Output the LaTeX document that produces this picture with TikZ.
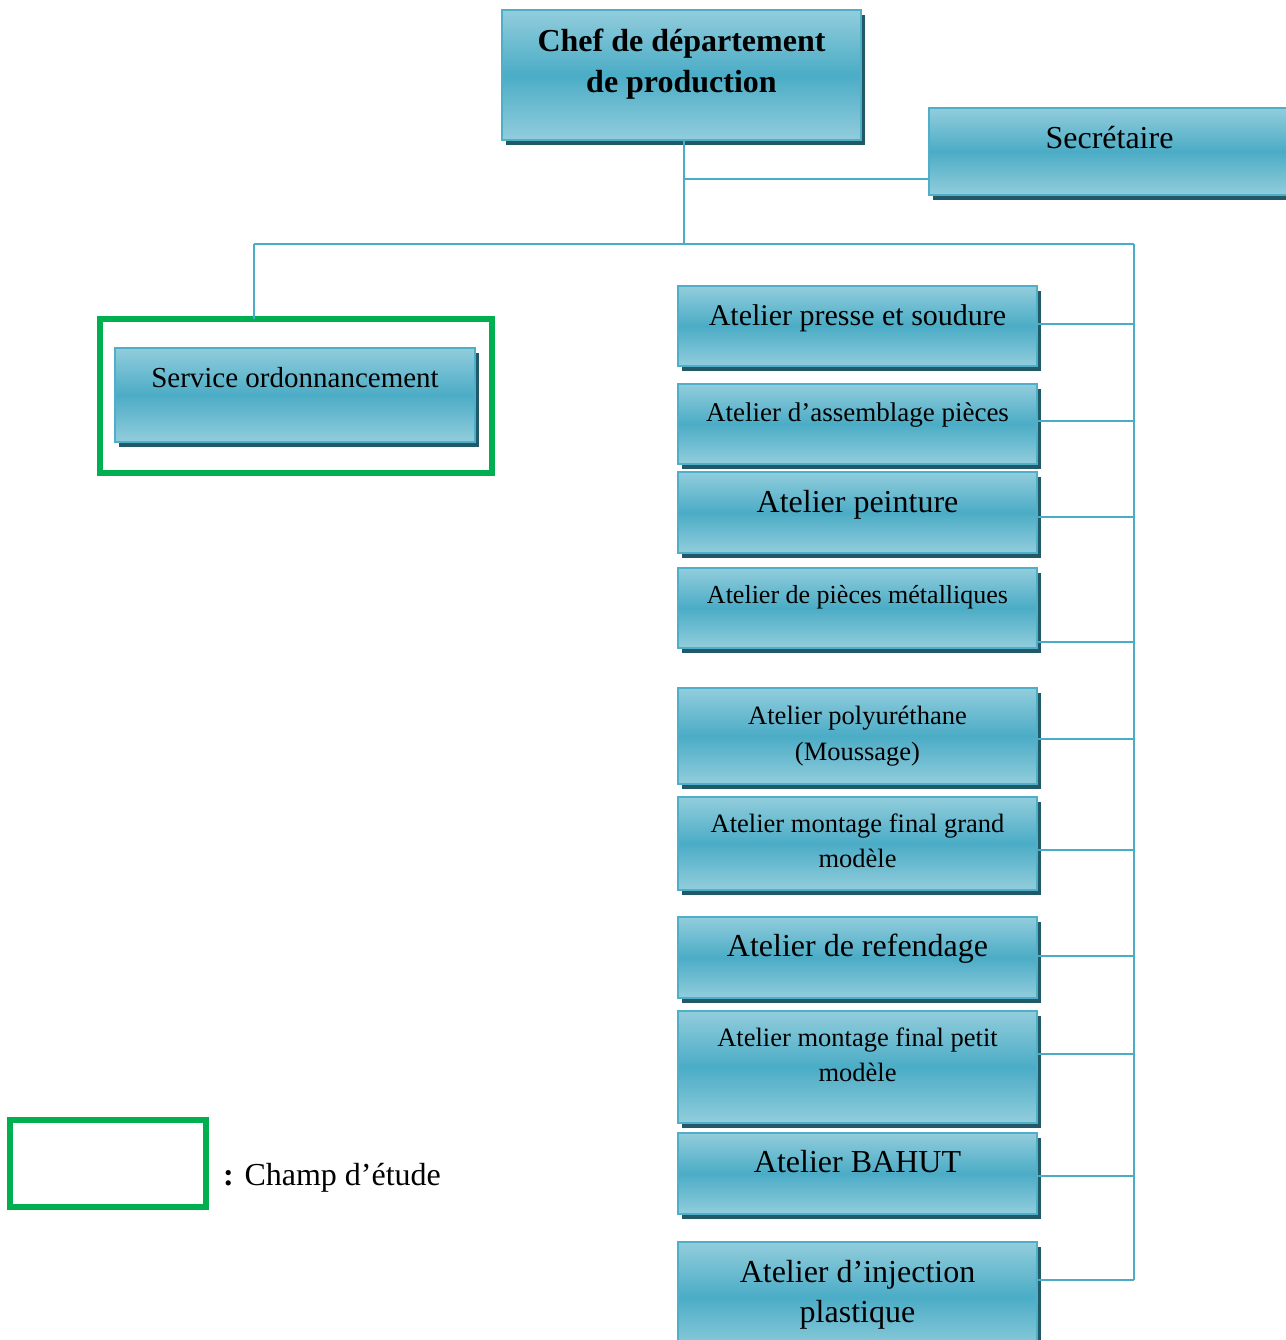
\documentclass[tikz,border=0pt]{standalone}
\usepackage{fontspec}
\setmainfont{Liberation Serif}
\usetikzlibrary{shadows}

\definecolor{boxlight}{RGB}{146,205,220}
\definecolor{boxmid}{RGB}{75,172,198}
\definecolor{boxedge}{RGB}{79,174,200}
\definecolor{shadowc}{RGB}{33,89,104}
\definecolor{linkc}{RGB}{75,172,198}
\definecolor{fieldc}{RGB}{0,176,80}

% two centred lines, baseline of the node = baseline of the first line
\newcommand\twoline[3]{\vtop{\baselineskip=#1pt\halign{\hfil##\hfil\cr#2\cr#3\cr}}}

\tikzset{
  orgbox/.style={draw=boxedge, line width=2pt,
    top color=boxlight, bottom color=boxlight, middle color=boxmid,
    drop shadow={shadow xshift=3.5pt, shadow yshift=-5pt, fill=shadowc, opacity=1},
    inner xsep=0pt, inner ysep=0pt, outer sep=0pt, anchor=north west, text=black},
  shop/.style={orgbox, minimum width=359pt},
  link/.style={draw=linkc, line width=2.2pt},
  field/.style={draw=fieldc, line width=6pt, inner sep=0pt, outer sep=0pt, anchor=north west},
  big/.style={font=\fontsize{32}{38}\selectfont},
  mid/.style={font=\fontsize{30}{36}\selectfont},
  small/.style={font=\fontsize{26.5}{32}\selectfont},
}

\begin{document}
\begin{tikzpicture}[x=1pt,y=-1pt]
\useasboundingbox (0,0) rectangle (1285,1340);

% head of the department and secretary
\node[orgbox, minimum width=359pt, text height=42pt, text depth=88pt, font=\fontsize{32}{38}\selectfont\bfseries]
  (chef) at (502,10) {\twoline{41}{Chef de département}{de production}};
\node[orgbox, minimum width=361pt, text height=41pt, text depth=46pt, big]
  (sec) at (929,108) {Secrétaire};

% scheduling service inside the study frame
\node[field, minimum width=392pt, minimum height=154pt] (champ) at (100,319) {};
\node[orgbox, minimum width=360pt, text height=39pt, text depth=55pt, font=\fontsize{29}{35}\selectfont]
  (serv) at (115,348) {Service ordonnancement};

% workshops
\node[shop, text height=39pt, text depth=41pt, mid]   (a1)  at (678,286)  {Atelier presse et soudure};
\node[shop, text height=37pt, text depth=43pt, font=\fontsize{27}{32}\selectfont] (a2) at (678,384) {Atelier d’assemblage pièces};
\node[shop, text height=40pt, text depth=41pt, big]   (a3)  at (678,472)  {Atelier peinture};
\node[shop, text height=35pt, text depth=45pt, font=\fontsize{26}{32}\selectfont] (a4) at (678,568) {Atelier de pièces métalliques};
\node[shop, text height=36pt, text depth=60pt, small] (a5)  at (678,688)  {\twoline{36}{Atelier polyuréthane}{(Moussage)}};
\node[shop, text height=35pt, text depth=58pt, small] (a6)  at (678,797)  {\twoline{35}{Atelier montage final grand}{modèle}};
\node[shop, text height=39pt, text depth=42pt, big]   (a7)  at (678,917)  {Atelier de refendage};
\node[shop, text height=35pt, text depth=77pt, small] (a8)  at (678,1011) {\twoline{35}{Atelier montage final petit}{modèle}};
\node[shop, text height=39pt, text depth=42pt, big]   (a9)  at (678,1133) {Atelier BAHUT};
\node[shop, text height=40pt, text depth=70pt, big]   (a10) at (678,1242) {\twoline{40}{Atelier d’injection}{plastique}};

% connectors
\coordinate (hub)  at (684,244);
\coordinate (lbus) at (254,244);
\coordinate (rbus) at (1134,244);
\coordinate (rend) at (1134,1280);

\draw[link] (chef.south -| hub) -- (hub);
\draw[link] (hub |- 0,179) -- (sec.west |- 0,179);
\draw[link] (lbus) -- (rbus);
\draw[link] (lbus) -- (champ.north -| lbus);
\draw[link] (rbus) -- (rend);
\draw[link] (a1.east  |- 0,324)  -- (rbus |- 0,324);
\draw[link] (a2.east  |- 0,421)  -- (rbus |- 0,421);
\draw[link] (a3.east  |- 0,517)  -- (rbus |- 0,517);
\draw[link] (a4.east  |- 0,642)  -- (rbus |- 0,642);
\draw[link] (a5.east  |- 0,739)  -- (rbus |- 0,739);
\draw[link] (a6.east  |- 0,850)  -- (rbus |- 0,850);
\draw[link] (a7.east  |- 0,956)  -- (rbus |- 0,956);
\draw[link] (a8.east  |- 0,1054) -- (rbus |- 0,1054);
\draw[link] (a9.east  |- 0,1176) -- (rbus |- 0,1176);
\draw[link] (a10.east |- 0,1280) -- (rend);

% legend
\node[field, minimum width=196pt, minimum height=87pt] (leg) at (10,1120) {};
\node[anchor=base west, inner sep=0pt, big] (legtxt) at (223,1185) {\textbf{:} Champ d’étude};
\end{tikzpicture}
\end{document}
